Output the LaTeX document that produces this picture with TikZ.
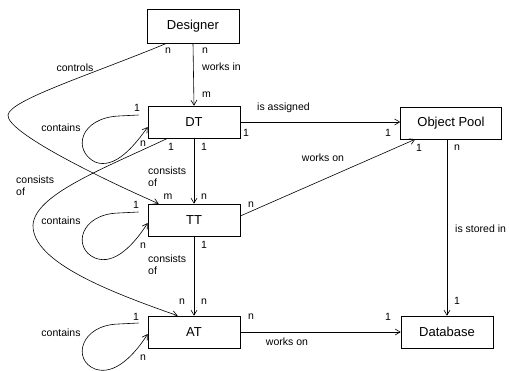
\documentclass[tikz,border=0pt]{standalone}
\usepackage{fontspec}
\setmainfont{Liberation Sans}
\usetikzlibrary{arrows.meta,positioning,calc}

\tikzset{
  entity/.style={draw, line width=0.6pt, minimum width=92pt, minimum height=32pt,
    inner sep=0pt, font=\fontsize{13}{15}\selectfont},
  lbl/.style={inner sep=0pt, font=\fontsize{10.5}{12}\selectfont, align=left},
  rel/.style={line width=0.6pt, -{Straight Barb[length=5pt,width=6pt]}},
  plain/.style={line width=0.6pt}
}

\begin{document}
\begin{tikzpicture}[x=1pt,y=-1pt]
\useasboundingbox (0,0) rectangle (509,371);
\fill[white] (0,0) rectangle (509,371);

% entities
\node[entity, minimum height=34pt] (Designer) at (193,26) {Designer};
\node[entity] (DT) at (194,122) {DT};
\node[entity] (TT) at (194,220) {TT};
\node[entity] (AT) at (194,332) {AT};
\node[entity, minimum width=101pt] (Pool) at (451,123) {Object Pool};
\node[entity] (Database) at (447,332) {Database};

% straight relations
\draw[rel] (Designer.south) -- (DT.north);
\draw[rel] (DT.south) -- (TT.north);
\draw[rel] (TT.south) -- (AT.north);
\draw[rel] (DT.east) -- (DT.east -| Pool.west);
\draw[rel] ($(TT.east)+(0,-4)$) -- ($(Pool.south west)+(15,0)$);
\draw[rel] (AT.east) -- (AT.east -| Database.west);
\draw[rel] (Database.north |- Pool.south) -- (Database.north);

% long curves
\draw[rel] ($(Designer.south west)+(20,0)$) .. controls (90,75) and (10,100) .. (8,115)
  .. controls (6,132) and (100,178) .. ($(TT.north west)+(11,0)$);
\draw[rel] ($(DT.south west)+(20,0)$) .. controls (100,170) and (35,195) .. (33,225)
  .. controls (32,262) and (110,292) .. ($(AT.north west)+(30,0)$);

% self loops
\draw[rel] ($(DT.west)+(-9,-7)$) -- ++(-20,1) .. controls (80,118) and (72,150) .. (95,162)
  .. controls (115,170) and (135,145) .. ($(DT.west)+(0,5)$);
\draw[rel] ($(TT.west)+(-9,-8)$) -- ++(-20,1) .. controls (80,214) and (72,248) .. (95,258)
  .. controls (115,266) and (135,243) .. ($(TT.west)+(0,3)$);
\draw[rel] ($(AT.west)+(-9,-9)$) -- ++(-20,1) .. controls (80,325) and (72,360) .. (95,369)
  .. controls (115,376) and (135,354) .. ($(AT.west)+(0,2)$);

% labels: Designer / DT
\node[lbl, anchor=west] (l1) at (202,51) {n};
\node[lbl, anchor=west] (l2) at (202,67) {works in};
\node[lbl, anchor=west] (l3) at (202,95) {m};
\node[lbl] (l4) at (75,68) {controls};
\node[lbl] (l5) at (168,51) {n};

% labels: DT
\node[lbl, anchor=west] (l6) at (257,108) {is assigned};
\node[lbl] (l7) at (246,133) {1};
\node[lbl] (l8) at (388,133) {1};
\node[lbl] (l9) at (171,147) {1};
\node[lbl] (l10) at (204,147) {1};
\node[lbl] (l11) at (137,108) {1};
\node[lbl] (l12) at (143,144) {n};
\node[lbl] (l13) at (61,128) {contains};
\node[lbl, anchor=north west] (l14) at (148,167) {consists\\of};
\node[lbl, anchor=north west] (l15) at (16,176) {consists\\of};

% labels: TT
\node[lbl] (l16) at (168,197) {m};
\node[lbl] (l17) at (204,197) {n};
\node[lbl] (l18) at (136,205) {1};
\node[lbl] (l19) at (143,246) {n};
\node[lbl] (l20) at (61,221) {contains};
\node[lbl] (l21) at (251,205) {n};
\node[lbl] (l22) at (204,245) {1};
\node[lbl, anchor=north west] (l23) at (148,255) {consists\\of};
\node[lbl] (l24) at (323,158) {works on};

% labels: AT
\node[lbl] (l25) at (182,302) {n};
\node[lbl] (l26) at (204,302) {n};
\node[lbl] (l27) at (136,317) {1};
\node[lbl] (l28) at (143,358) {n};
\node[lbl] (l29) at (61,333) {contains};
\node[lbl] (l30) at (251,317) {n};
\node[lbl] (l31) at (287,342) {works on};

% labels: Object Pool / Database
\node[lbl] (l32) at (419,148) {1};
\node[lbl] (l33) at (457,148) {n};
\node[lbl, anchor=west] (l34) at (455,229) {is stored in};
\node[lbl] (l35) at (457,301) {1};
\node[lbl] (l36) at (388,317) {1};
\end{tikzpicture}
\end{document}
